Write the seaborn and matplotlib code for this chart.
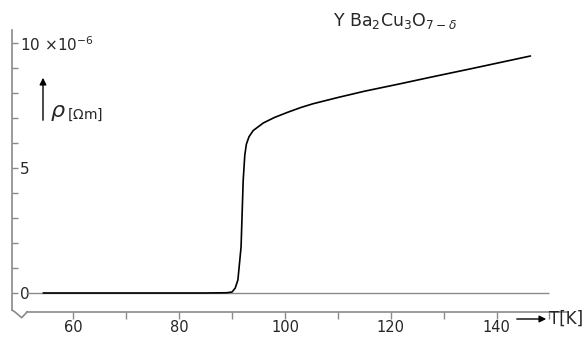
import numpy as np
import pandas as pd
import seaborn as sns
import matplotlib.pyplot as plt

# resistivity of YBa2Cu3O7-d (rho in 1e-6 Ohm m)
temperature = [54.3, 60, 70, 80, 85, 89, 90.0, 90.6, 91.1, 91.7, 92.1, 92.4,
               92.7, 93.2, 94.0, 95.9, 98.0, 100.4, 103.0, 105.3, 110.0,
               115.0, 121.8, 127.5, 135.6, 146.4]
resistivity = [0.0, 0.0, 0.0, 0.0, 0.0, 0.01, 0.04, 0.2, 0.52, 1.84, 4.5, 5.5,
               5.95, 6.25, 6.5, 6.8, 7.02, 7.22, 7.42, 7.57, 7.82,
               8.07, 8.37, 8.63, 8.99, 9.48]
x_major = [60, 80, 100, 120, 140]
x_minor = [70, 90, 110, 130, 150]
y_major = [0, 5, 10]
y_labels = ["0", "5", "10 $\\times$10$^{-6}$"]
y_minor = [1, 2, 3, 4, 6, 7, 8, 9]

df = pd.DataFrame({"T": temperature, "rho": resistivity})

sns.set_style("white")
plt.rcParams["font.family"] = ["DejaVu Sans"]
plt.rcParams["mathtext.fontset"] = "dejavusans"

W, H = 583, 337
fig = plt.figure(figsize=(W / 100, H / 100), dpi=100)
ax = fig.add_axes([12 / W, 1 - 312 / H, (568 - 12) / W, (312 - 30) / H])

def px(x, y):
    # figure pixel (from top-left) -> figure fraction
    return x / W, 1 - y / H

grey = "#8a8a8a"

# zero line, starts right of the "0" label
ax.hlines(0, 51.06, 150, color=grey, lw=1.0)

sns.lineplot(data=df, x="T", y="rho", ax=ax, color="black", lw=1.2,
             estimator=None, sort=False)

ax.set_xlim(48.4, 153.5)
ax.set_ylim(-0.76, 10.52)

for s in ["top", "right"]:
    ax.spines[s].set_visible(False)
for s in ["left", "bottom"]:
    ax.spines[s].set_color(grey)
    ax.spines[s].set_linewidth(1.2)
ax.spines["left"].set_bounds(-0.68, 10.52)
ax.spines["bottom"].set_bounds(51.3, 153.5)

# axis break zigzag in the corner
zx, zy = zip(*[px(12, 310), px(15, 312), px(21.7, 317.7), px(27.3, 311.7)])
fig.add_artist(plt.Line2D(zx, zy, color=grey, lw=1.2))

ax.set_xticks(x_major)
ax.set_xticks(x_minor, minor=True)
ax.set_xticklabels([str(v) for v in x_major], fontsize=10.5)
ax.tick_params(axis="x", which="both", bottom=True, direction="out",
               length=5, color=grey, width=1, pad=1)

ax.set_yticks(y_major)
ax.set_yticks(y_minor, minor=True)
ax.set_yticklabels(y_labels, fontsize=11)
ax.tick_params(axis="y", which="both", left=True, direction="in", length=4.5,
               color=grey, width=1, pad=-6)
for lbl in ax.get_yticklabels():
    lbl.set_horizontalalignment("left")

ax.set_xlabel("")
ax.set_ylabel("")

# x axis label with arrow
fig.add_artist(plt.Annotation("", xy=px(549, 319), xytext=px(514, 319),
                              xycoords="figure fraction",
                              arrowprops=dict(arrowstyle="-|>", color="black",
                                              lw=1, mutation_scale=10)))
fig.text(*px(549, 319), "T[K]", fontsize=12, ha="left", va="center")

# y axis label with arrow
fig.add_artist(plt.Annotation("", xy=px(43, 75), xytext=px(43, 123),
                              xycoords="figure fraction",
                              arrowprops=dict(arrowstyle="-|>", color="black",
                                              lw=1, mutation_scale=10)))
fig.text(*px(50, 117), "$\\rho$", fontsize=16, ha="left", va="baseline")
fig.text(*px(67, 119), "[$\\Omega$m]", fontsize=10, ha="left", va="baseline")

fig.text(*px(333, 26), "Y Ba$_2$Cu$_3$O$_{7-\\delta}$", fontsize=12.5,
         ha="left", va="baseline")

fig.savefig("out.png", dpi=100, facecolor="white")
